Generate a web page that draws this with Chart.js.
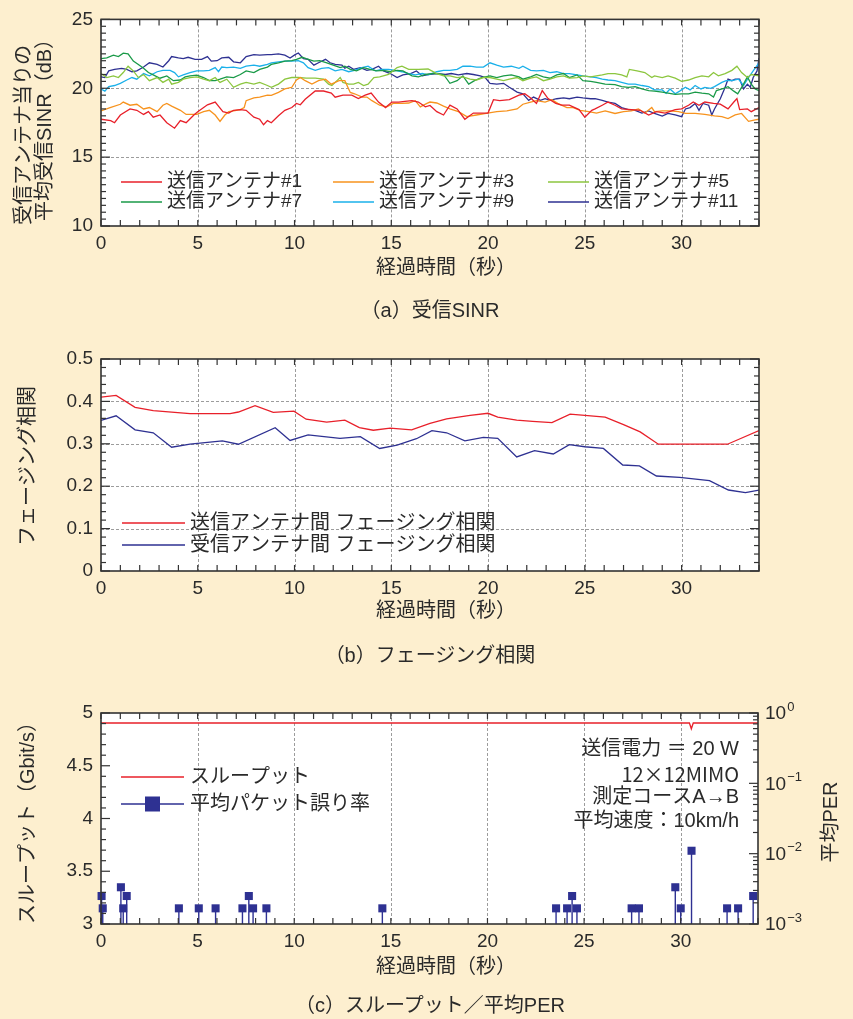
<!DOCTYPE html>
<html><head><meta charset="utf-8">
<script src="https://cdn.jsdelivr.net/npm/chart.js@4.4.1/dist/chart.umd.min.js"></script>
<style>
html,body{margin:0;padding:0;background:#fdefcf;overflow:hidden;}
#wrap{position:relative;width:853px;height:1019px;}
canvas{position:absolute;left:0;top:0;}
.cap{position:absolute;left:0;width:860px;text-align:center;font-size:20px;font-family:"Liberation Sans","Noto Sans CJK JP",sans-serif;color:#2a2a2a;line-height:24px;}
</style></head><body>
<div id="wrap">
<canvas id="c1" width="853" height="1019"></canvas>
<canvas id="c2" width="853" height="1019"></canvas>
<canvas id="c3" width="853" height="1019"></canvas>
<div class="cap" style="top:298px">（a）受信SINR</div>
<div class="cap" style="top:643px">（b）フェージング相関</div>
<div class="cap" style="top:993px">（c）スループット／平均PER</div>
</div>
<script>
// ---------------- DATA ----------------
const xTickVals = [0, 5, 10, 15, 20, 25, 30];
const sinrTickVals = [10, 15, 20, 25];
const corrTickVals = [0, 0.1, 0.2, 0.3, 0.4, 0.5];
const thrTickVals = [3, 3.5, 4, 4.5, 5];
const perTickExps = [-3, -2, -1, 0];

const sinrLabels = ['送信アンテナ#1', '送信アンテナ#3', '送信アンテナ#5', '送信アンテナ#7', '送信アンテナ#9', '送信アンテナ#11'];

// [time (s), SINR (dB)]
const ant1 = [[0,17.75],[0.5,17.65],[0.7,17.5],[1,18.06],[1.5,18.5],[1.85,18.4],[2.2,18.1],[2.45,18.3],[2.7,17.9],[3.05,18.06],[3.4,17.5],[3.8,17.1],[4.1,17.65],[4.4,17.5],[4.8,18.06],[5.0,18.3],[5.5,18.8],[5.9,19.0],[6.1,18.65],[6.3,18.3],[6.6,18.2],[6.85,18.4],[7.2,18.45],[7.5,18.4],[7.9,17.9],[8.2,17.75],[8.4,17.35],[8.6,17.65],[8.8,17.5],[9.17,18.0],[9.5,18.4],[9.86,18.6],[10.1,18.9],[10.3,18.8],[10.55,19.2],[11.07,19.8],[11.5,19.8],[11.9,19.65],[12.1,19.35],[12.5,19.5],[12.96,19.5],[13.3,19.25],[13.65,19.5],[13.96,19.65],[14.34,19.0],[14.7,18.6],[15.03,19.0],[15.38,19.0],[15.7,19.05],[16.07,19.1],[16.4,19.0],[16.76,18.65],[17.0,18.75],[17.35,18.3],[17.7,18.06],[18.03,18.77],[18.4,18.5],[18.8,17.75],[19.24,18.2],[19.67,18.2],[20.0,18.2],[20.28,19.17],[20.6,19.1],[21.1,19.17],[21.6,19.5],[21.9,19.6],[22.2,19.3],[22.5,18.9],[22.8,19.83],[23.1,19.25],[23.5,18.9],[23.8,18.77],[24.2,18.77],[24.7,18.45],[25.0,17.9],[25.36,18.4],[25.53,18.5],[25.9,18.77],[26.2,19.0],[26.56,18.77],[26.9,18.5],[27.4,18.45],[27.86,18.4],[28.3,18.06],[28.7,18.3],[29.15,18.2],[29.67,18.45],[30.0,18.5],[30.36,18.77],[30.6,19.0],[30.9,18.77],[31.2,19.0],[31.65,18.9],[32.0,18.85],[32.4,18.5],[32.7,19.0],[32.86,19.25],[33.0,18.45],[33.4,18.5],[33.6,18.3],[34.0,18.6]];
const ant3 = [[0,18.36],[0.47,18.6],[1.0,18.84],[1.15,19.0],[1.5,18.77],[1.85,18.84],[2.2,18.5],[2.5,18.6],[2.9,18.3],[3.2,18.77],[3.4,18.9],[3.65,18.7],[4.1,18.4],[4.4,18.1],[4.95,18.1],[5.3,18.3],[5.6,18.4],[5.9,18.06],[6.15,17.6],[6.4,18.06],[6.6,18.3],[6.85,18.36],[7.2,18.45],[7.4,18.6],[7.5,19.1],[7.9,19.3],[8.2,19.36],[8.6,19.5],[8.8,19.48],[9.17,19.7],[9.5,19.95],[9.86,20.07],[10.1,20.6],[10.3,20.78],[10.55,20.55],[10.9,20.3],[11.24,20.55],[11.6,20.66],[11.9,20.3],[12.3,20.55],[12.6,20.55],[12.88,19.7],[13.1,19.6],[13.5,19.36],[13.74,19.36],[14.0,19.1],[14.4,18.77],[14.77,18.65],[15.1,18.9],[15.55,18.9],[15.9,18.93],[16.24,19.1],[16.5,18.65],[16.84,18.9],[17.0,19.0],[17.35,18.93],[17.7,18.7],[18.03,18.5],[18.47,18.3],[18.9,17.94],[19.4,18.06],[19.9,18.17],[20.45,18.3],[20.97,18.36],[21.5,18.5],[21.8,18.84],[22.2,19.0],[22.5,19.1],[22.95,19.0],[23.3,19.17],[23.6,18.9],[24.07,18.6],[24.4,18.6],[24.76,18.4],[25.2,18.3],[25.6,18.2],[26.05,18.36],[26.56,18.17],[27.0,18.3],[27.4,18.36],[27.77,18.5],[28.1,18.2],[28.46,18.6],[28.6,18.3],[29.0,18.36],[29.4,18.36],[29.84,18.3],[30.2,18.17],[30.7,18.17],[31.2,18.1],[31.7,18.0],[32.08,17.94],[32.4,17.8],[32.77,18.06],[33.1,18.17],[33.46,17.6],[33.8,17.7],[34.0,17.75]];
const ant5 = [[0,21.07],[0.3,20.78],[0.64,20.9],[0.9,20.78],[1.15,21.14],[1.4,21.6],[1.67,21.26],[1.93,20.78],[2.2,21.0],[2.5,20.55],[2.9,20.78],[3.2,20.43],[3.5,20.66],[3.65,20.3],[4.0,20.43],[4.25,20.66],[4.6,20.78],[4.95,20.83],[5.3,20.66],[5.6,20.55],[5.9,20.78],[6.15,20.43],[6.5,20.66],[6.85,20.07],[7.2,20.3],[7.5,20.43],[7.9,20.3],[8.2,20.43],[8.6,20.2],[8.8,20.07],[9.17,20.3],[9.5,20.66],[9.86,20.78],[10.2,20.78],[10.6,20.73],[11.07,20.73],[11.5,20.66],[11.76,20.3],[11.93,20.2],[12.1,20.43],[12.36,20.78],[12.5,20.43],[12.8,20.3],[13.05,20.3],[13.3,20.43],[13.57,20.2],[13.8,20.3],[14.1,20.78],[14.4,20.83],[14.86,21.0],[15.3,21.5],[15.55,21.6],[15.9,21.37],[16.4,21.37],[16.9,21.4],[17.35,21.07],[17.7,20.9],[18.03,20.9],[18.4,20.78],[18.7,20.83],[19.07,20.66],[19.4,20.6],[19.76,20.78],[20.1,20.78],[20.45,20.66],[20.8,20.55],[21.1,20.66],[21.5,20.78],[21.8,20.55],[22.2,20.73],[22.5,20.83],[22.86,20.55],[23.2,20.66],[23.55,20.83],[23.9,20.9],[24.2,20.73],[24.6,20.78],[24.9,20.9],[25.3,20.83],[25.6,20.9],[25.9,20.97],[26.2,21.07],[26.56,21.07],[26.9,20.97],[27.17,20.83],[27.3,21.37],[27.7,21.26],[28.1,21.14],[28.46,20.78],[28.6,20.9],[29.0,20.78],[29.3,20.9],[29.67,20.73],[30.0,20.5],[30.36,20.6],[30.7,20.78],[31.05,20.9],[31.4,20.83],[31.65,21.14],[31.9,20.9],[32.25,21.07],[32.6,21.3],[32.86,21.6],[33.1,21.14],[33.4,20.78],[33.6,21.0],[34.0,20.9]];
const ant7 = [[0,22.15],[0.3,22.2],[0.64,22.4],[0.9,22.3],[1.15,22.55],[1.4,22.5],[1.67,21.97],[1.93,21.73],[2.2,21.45],[2.45,21.14],[2.7,20.97],[3.05,20.73],[3.4,20.9],[3.74,20.55],[4.1,20.6],[4.35,20.83],[4.6,20.9],[4.95,20.95],[5.3,20.78],[5.6,20.55],[5.9,20.55],[6.15,20.66],[6.5,20.83],[6.85,20.78],[7.2,21.0],[7.5,21.26],[7.9,21.14],[8.2,21.37],[8.6,21.54],[8.8,21.73],[9.17,21.85],[9.5,21.97],[9.86,22.0],[10.1,22.1],[10.4,22.25],[10.6,22.15],[11.0,21.97],[11.3,22.0],[11.67,21.85],[12.0,21.68],[12.36,21.5],[12.6,21.6],[12.88,21.37],[13.2,21.26],[13.57,21.5],[13.9,21.37],[14.25,21.26],[14.6,21.3],[14.95,21.2],[15.3,21.3],[15.6,21.26],[16.07,20.9],[16.4,20.83],[16.76,21.0],[17.1,21.07],[17.35,21.07],[17.7,21.0],[18.03,20.36],[18.4,20.55],[18.7,20.9],[19.0,20.3],[19.3,20.55],[19.67,20.78],[20.1,20.9],[20.45,20.78],[20.8,20.9],[21.2,20.97],[21.6,20.83],[21.8,20.66],[22.2,20.83],[22.5,21.0],[22.86,20.83],[23.2,20.73],[23.55,20.97],[23.9,21.07],[24.2,20.78],[24.6,20.97],[24.9,20.55],[25.3,20.5],[25.6,20.43],[26.05,20.3],[26.56,20.26],[26.9,20.12],[27.25,20.07],[27.6,20.12],[27.95,19.95],[28.3,19.83],[28.6,19.79],[29.0,19.72],[29.3,19.64],[29.67,19.55],[30.0,19.6],[30.36,19.6],[30.7,19.72],[31.05,19.64],[31.4,19.6],[31.65,19.36],[31.8,19.83],[32.17,20.0],[32.4,20.12],[32.7,19.79],[32.9,19.6],[33.2,20.3],[33.4,20.83],[33.6,20.3],[33.8,19.95],[34.0,19.83]];
const ant9 = [[0,19.95],[0.2,19.79],[0.4,20.12],[0.7,20.2],[1.0,20.36],[1.33,20.6],[1.6,20.78],[1.85,20.66],[2.2,21.07],[2.5,20.9],[2.9,21.2],[3.2,21.3],[3.57,21.3],[3.8,21.14],[4.0,20.83],[4.25,20.97],[4.6,21.14],[4.95,21.26],[5.3,21.26],[5.6,21.3],[5.9,21.5],[6.07,21.2],[6.24,21.54],[6.5,21.5],[6.85,21.54],[7.2,21.45],[7.5,21.6],[7.9,21.68],[8.2,21.6],[8.6,21.73],[8.8,21.85],[9.17,21.92],[9.5,21.97],[9.86,21.97],[10.2,22.0],[10.46,21.85],[10.7,21.5],[11.07,21.3],[11.4,21.45],[11.76,21.5],[12.1,21.26],[12.45,21.37],[12.8,21.2],[13.1,21.3],[13.48,21.5],[13.8,21.6],[14.17,21.26],[14.5,21.37],[14.86,21.37],[15.2,21.3],[15.55,21.2],[15.9,21.07],[16.24,20.97],[16.6,21.07],[16.9,20.97],[17.35,21.2],[17.7,21.3],[18.03,21.3],[18.4,21.37],[18.7,21.6],[19.07,21.6],[19.4,21.54],[19.76,21.54],[20.1,21.85],[20.45,21.68],[20.8,21.54],[21.2,21.6],[21.6,21.45],[21.8,21.6],[22.2,21.3],[22.5,21.26],[22.86,21.3],[23.2,21.14],[23.55,21.2],[23.9,21.07],[24.2,21.07],[24.6,20.97],[24.9,20.9],[25.3,20.83],[25.6,20.78],[25.9,20.66],[26.2,20.6],[26.56,20.55],[26.9,20.43],[27.25,20.3],[27.6,20.3],[27.95,20.2],[28.3,20.12],[28.6,19.88],[29.0,19.88],[29.2,19.64],[29.4,19.95],[29.67,19.6],[29.9,19.79],[30.2,20.07],[30.44,19.88],[30.7,20.2],[31.0,19.95],[31.2,20.07],[31.5,20.0],[31.7,20.12],[32.08,20.43],[32.3,20.55],[32.6,20.55],[32.94,20.66],[33.2,20.2],[33.46,20.78],[33.7,21.26],[34.0,21.85]];
const ant11 = [[0,20.83],[0.2,20.78],[0.4,21.26],[0.7,21.37],[1.07,21.45],[1.33,21.37],[1.6,21.2],[1.85,21.26],[2.2,21.54],[2.5,21.85],[2.9,21.73],[3.2,21.54],[3.5,22.0],[3.65,22.3],[4.0,22.2],[4.25,22.15],[4.5,22.25],[4.86,22.1],[5.2,22.1],[5.5,22.3],[5.7,21.97],[6.0,22.0],[6.24,22.2],[6.6,22.25],[6.85,21.92],[7.2,21.85],[7.5,22.3],[7.9,22.44],[8.2,22.4],[8.6,22.44],[8.8,22.44],[9.17,22.5],[9.5,22.4],[9.77,22.2],[10.03,22.44],[10.2,22.56],[10.46,22.15],[10.7,22.1],[11.0,21.68],[11.24,21.85],[11.6,22.1],[11.84,21.85],[12.1,21.73],[12.45,21.68],[12.6,21.45],[12.8,21.6],[13.05,21.37],[13.4,21.5],[13.74,21.3],[14.0,21.37],[14.34,21.6],[14.6,21.26],[14.95,21.07],[15.3,20.78],[15.6,20.97],[16.0,21.07],[16.3,21.26],[16.6,20.9],[16.9,21.0],[17.35,21.07],[17.8,21.0],[18.1,21.07],[18.47,20.97],[18.9,21.07],[19.24,21.0],[19.6,20.9],[19.85,20.78],[20.1,20.36],[20.45,20.3],[20.8,20.36],[21.1,20.07],[21.5,19.72],[21.8,19.6],[22.1,19.12],[22.35,19.36],[22.7,19.12],[22.95,19.24],[23.2,19.12],[23.55,19.24],[23.9,19.3],[24.2,19.24],[24.6,19.36],[24.9,19.3],[25.3,19.24],[25.53,19.24],[25.9,19.12],[26.2,19.0],[26.56,18.9],[26.9,18.6],[27.25,18.45],[27.6,18.4],[27.95,18.2],[28.3,18.36],[28.6,18.17],[29.0,17.98],[29.3,18.17],[29.67,18.06],[30.0,17.94],[30.2,18.5],[30.44,18.6],[30.7,18.9],[30.9,18.4],[31.1,18.9],[31.4,18.77],[31.56,18.06],[31.7,18.5],[32.0,19.24],[32.25,20.07],[32.4,20.66],[32.6,20.55],[32.77,20.66],[33.0,20.66],[33.2,19.95],[33.4,20.3],[33.55,20.07],[33.7,20.78],[33.9,21.26],[34.0,22.2]];

// [time (s), correlation]
const corrLabels = ['送信アンテナ間 フェージング相関', '受信アンテナ間 フェージング相関'];
const txCorr = [[0,0.41],[0.78,0.414],[1.76,0.386],[2.7,0.378],[4.6,0.371],[6.67,0.371],[7.1,0.375],[7.96,0.39],[8.9,0.374],[9.97,0.377],[10.6,0.358],[11.66,0.351],[12.6,0.356],[13.35,0.338],[14.07,0.332],[14.94,0.337],[16.05,0.333],[17.0,0.348],[17.86,0.359],[19.07,0.367],[20.0,0.372],[20.5,0.363],[21.48,0.356],[22.3,0.353],[23.3,0.35],[24.24,0.37],[25.0,0.367],[26.05,0.363],[27.0,0.345],[27.86,0.328],[28.8,0.299],[29.9,0.299],[32.37,0.299],[34.0,0.331]];
const rxCorr = [[0,0.355],[0.78,0.366],[1.76,0.333],[2.7,0.326],[3.65,0.292],[4.6,0.299],[6.27,0.307],[7.1,0.299],[9.0,0.338],[9.77,0.308],[10.7,0.321],[12.35,0.313],[13.4,0.317],[14.4,0.289],[15.3,0.297],[16.3,0.312],[17.1,0.331],[17.86,0.326],[18.8,0.307],[19.76,0.315],[20.5,0.313],[21.48,0.269],[22.4,0.284],[23.37,0.276],[24.2,0.298],[25.0,0.293],[25.96,0.289],[26.96,0.25],[27.82,0.248],[28.7,0.224],[29.9,0.221],[31.44,0.213],[32.42,0.191],[33.3,0.185],[34.0,0.191]];

// throughput (Gbit/s) and average PER
const thrLabels = ['スループット', '平均パケット誤り率'];
const thrT = [0, 5, 10, 15, 20, 25, 30, 30.45, 30.55, 30.65, 34];
const thrV = [4.905, 4.905, 4.905, 4.905, 4.905, 4.905, 4.905, 4.905, 4.85, 4.905, 4.905];
const perT = [0.03, 0.09, 1.03, 1.15, 1.33, 4.03, 5.06, 5.93, 7.32, 7.65, 7.87, 8.56, 14.56, 23.55, 24.12, 24.38, 24.63, 27.46, 27.84, 29.72, 30.0, 30.56, 32.4, 32.97, 33.75];
const perV = [2.5e-3, 1.67e-3, 3.33e-3, 1.67e-3, 2.5e-3, 1.67e-3, 1.67e-3, 1.67e-3, 1.67e-3, 2.5e-3, 1.67e-3, 1.67e-3, 1.67e-3, 1.67e-3, 1.67e-3, 2.5e-3, 1.67e-3, 1.67e-3, 1.67e-3, 3.33e-3, 1.67e-3, 1.1e-2, 1.67e-3, 1.67e-3, 2.5e-3];
const noteLines = ['送信電力 ＝ 20 W', '12×12MIMO', '測定コースA→B', '平均速度：10km/h'];

// ---------------- STYLE ----------------
const FONT = '"Liberation Sans", "Noto Sans CJK JP", sans-serif';
const TXT = '#2a2a2a';
const RED = '#e8202a', ORANGE = '#f7931e', LGREEN = '#8cc63f', DGREEN = '#1a9a48', LBLUE = '#1ab0ea', NAVY = '#2e3192';
const TICK_FONT = {family: FONT, size: 19};

// ---------------- PLUGINS ----------------
const framePlugin = {
  id: 'frame',
  beforeDatasetsDraw(chart, args, o) {
    const {ctx, chartArea: a} = chart;
    ctx.save();
    ctx.fillStyle = '#ffffff';
    ctx.fillRect(a.left, a.top, a.right - a.left, a.bottom - a.top);
    ctx.strokeStyle = '#9c9c9c'; ctx.lineWidth = 1; ctx.setLineDash([3, 2]);
    for (const g of (o.grid || [])) {
      const s = chart.scales[g.scale];
      for (const v of g.values) {
        const p = Math.round(s.getPixelForValue(v)) + 0.5;
        ctx.beginPath();
        if (s.isHorizontal()) { ctx.moveTo(p, a.top); ctx.lineTo(p, a.bottom); }
        else { ctx.moveTo(a.left, p); ctx.lineTo(a.right, p); }
        ctx.stroke();
      }
    }
    ctx.setLineDash([]);
    if (o.stems) {
      const meta = chart.getDatasetMeta(o.stems.dataset);
      ctx.strokeStyle = o.stems.color; ctx.lineWidth = 1.4;
      for (const el of meta.data) {
        ctx.beginPath(); ctx.moveTo(el.x, el.y); ctx.lineTo(el.x, a.bottom); ctx.stroke();
      }
    }
    ctx.restore();
  },
  afterDatasetsDraw(chart, args, o) {
    const {ctx, chartArea: a} = chart;
    ctx.save();
    ctx.strokeStyle = '#333'; ctx.lineWidth = 1.2;
    for (const sp of (o.ticks || [])) {
      const s = chart.scales[sp.scale];
      const vals = [];
      if (sp.log) {
        for (let e = sp.fromExp; e < sp.toExp; e++) for (let m = 1; m < 10; m++) vals.push({v: m * Math.pow(10, e), major: m === 1});
        vals.push({v: Math.pow(10, sp.toExp), major: true});
      } else {
        const n = Math.round((sp.to - sp.from) / sp.step);
        for (let i = 0; i <= n; i++) vals.push({v: sp.from + i * sp.step, major: i % sp.majorEvery === 0});
      }
      for (const {v, major} of vals) {
        const p = s.getPixelForValue(v);
        const len = major ? sp.majorLen : sp.len;
        for (const side of sp.sides) {
          ctx.beginPath();
          if (side === 'top') { ctx.moveTo(p, a.top); ctx.lineTo(p, a.top + len); }
          else if (side === 'bottom') { ctx.moveTo(p, a.bottom); ctx.lineTo(p, a.bottom - len); }
          else if (side === 'left') { ctx.moveTo(a.left, p); ctx.lineTo(a.left + len, p); }
          else { ctx.moveTo(a.right, p); ctx.lineTo(a.right - len, p); }
          ctx.stroke();
        }
      }
    }
    ctx.lineWidth = 1.6; ctx.strokeStyle = '#333';
    ctx.strokeRect(a.left, a.top, a.right - a.left, a.bottom - a.top);
    ctx.restore();
  }
};

const legendPlugin = {
  id: 'inLegend',
  afterDatasetsDraw(chart, args, o) {
    if (!o.items) return;
    const ctx = chart.ctx;
    ctx.save();
    ctx.font = o.font; ctx.textBaseline = 'middle'; ctx.textAlign = 'left';
    for (const it of o.items) {
      const ds = chart.data.datasets[it.ds];
      const color = ds.borderColor || ds.backgroundColor;
      ctx.strokeStyle = color; ctx.lineWidth = 1.5;
      ctx.beginPath(); ctx.moveTo(it.x, it.y); ctx.lineTo(it.x + o.lineLen, it.y); ctx.stroke();
      if (it.marker) {
        ctx.fillStyle = color;
        ctx.fillRect(it.x + o.lineLen / 2 - it.marker / 2, it.y - it.marker / 2, it.marker, it.marker);
      }
      ctx.fillStyle = TXT;
      ctx.fillText(ds.label, it.x + o.lineLen + o.gap, it.y);
    }
    ctx.restore();
  }
};

const textPlugin = {
  id: 'texts',
  afterDraw(chart, args, o) {
    const ctx = chart.ctx;
    for (const t of (o.items || [])) {
      ctx.save();
      ctx.translate(t.x, t.y);
      if (t.rotate) ctx.rotate(t.rotate * Math.PI / 180);
      ctx.font = t.font || ('20px ' + FONT);
      ctx.fillStyle = TXT; ctx.textAlign = t.align || 'center'; ctx.textBaseline = 'middle';
      ctx.fillText(t.text, 0, 0);
      ctx.restore();
    }
    if (o.logLabels) {
      const L = o.logLabels, s = chart.scales[L.scale];
      ctx.save(); ctx.fillStyle = TXT; ctx.textAlign = 'left'; ctx.textBaseline = 'middle';
      for (const e of L.exps) {
        const y = s.getPixelForValue(Math.pow(10, e));
        ctx.font = '19px ' + FONT;
        ctx.fillText('10', L.x, y + 1);
        const w = ctx.measureText('10').width;
        ctx.font = '13px ' + FONT;
        ctx.fillText(e === 0 ? '0' : '\u2212' + Math.abs(e), L.x + w + 1, y - 6);
      }
      ctx.restore();
    }
  }
};

// ---------------- HELPERS ----------------
function xAxis() {
  return {
    type: 'linear', min: 0, max: 34,
    afterBuildTicks: s => { s.ticks = xTickVals.map(v => ({value: v})); },
    ticks: {font: TICK_FONT, color: TXT, padding: 6, maxRotation: 0, autoSkip: false},
    grid: {display: false, drawTicks: false}, border: {display: false},
    afterFit: s => { s.height = 54; }
  };
}
function yAxis(min, max, vals, fmt) {
  return {
    type: 'linear', position: 'left', min, max,
    afterBuildTicks: s => { s.ticks = vals.map(v => ({value: v})); },
    ticks: {font: TICK_FONT, color: TXT, padding: 8, autoSkip: false, callback: fmt},
    grid: {display: false, drawTicks: false}, border: {display: false},
    afterFit: s => { s.width = 101; }
  };
}
const toXY = arr => arr.map(p => ({x: p[0], y: p[1]}));
function lineDs(label, arr, color) {
  return {label, data: toXY(arr), borderColor: color, backgroundColor: color, borderWidth: 1.3, pointRadius: 0, tension: 0, fill: false};
}
const gridX = xTickVals.filter(v => v > 0 && v < 34);
const base = {responsive: false, animation: false, devicePixelRatio: 1, events: []};

// ---------------- CHART 1 ----------------
new Chart(document.getElementById('c1'), {
  type: 'line',
  data: {datasets: [
    lineDs(sinrLabels[0], ant1, RED),
    lineDs(sinrLabels[1], ant3, ORANGE),
    lineDs(sinrLabels[2], ant5, LGREEN),
    lineDs(sinrLabels[3], ant7, DGREEN),
    lineDs(sinrLabels[4], ant9, LBLUE),
    lineDs(sinrLabels[5], ant11, NAVY)
  ]},
  options: Object.assign({}, base, {
    layout: {padding: {left: 0, right: 94, top: 15, bottom: 1019 - 226 - 54}},
    scales: {x: xAxis(), y: yAxis(10, 25, sinrTickVals, v => String(v))},
    plugins: {
      legend: {display: false}, tooltip: {enabled: false},
      frame: {
        grid: [{scale: 'x', values: gridX}, {scale: 'y', values: sinrTickVals.filter(v => v > 10 && v < 25)}],
        ticks: [
          {scale: 'x', from: 0, to: 34, step: 1, majorEvery: 5, len: 6, majorLen: 6, sides: ['top', 'bottom']},
          {scale: 'y', from: 10, to: 25, step: 0.5, majorEvery: 10, len: 5, majorLen: 9, sides: ['left', 'right']}
        ]
      },
      inLegend: {
        font: '19px ' + FONT, lineLen: 41, gap: 5,
        items: [
          {ds: 0, x: 121, y: 182}, {ds: 1, x: 333, y: 182}, {ds: 2, x: 548, y: 182},
          {ds: 3, x: 121, y: 202}, {ds: 4, x: 333, y: 202}, {ds: 5, x: 548, y: 202}
        ]
      },
      texts: {items: [
        {text: '受信アンテナ当りの', x: 24, y: 135, rotate: -90},
        {text: '平均受信SINR（dB）', x: 45, y: 125, rotate: -90},
        {text: '経過時間（秒）', x: 446, y: 268}
      ]}
    }
  }),
  plugins: [framePlugin, legendPlugin, textPlugin]
});

// ---------------- CHART 2 ----------------
new Chart(document.getElementById('c2'), {
  type: 'line',
  data: {datasets: [
    lineDs(corrLabels[0], txCorr, RED),
    lineDs(corrLabels[1], rxCorr, NAVY)
  ]},
  options: Object.assign({}, base, {
    layout: {padding: {left: 0, right: 94, top: 359, bottom: 1019 - 571 - 54}},
    scales: {x: xAxis(), y: yAxis(0, 0.5, corrTickVals, v => v === 0 ? '0' : v.toFixed(1))},
    plugins: {
      legend: {display: false}, tooltip: {enabled: false},
      frame: {
        grid: [{scale: 'x', values: gridX}, {scale: 'y', values: corrTickVals.filter(v => v > 0 && v < 0.5)}],
        ticks: [
          {scale: 'x', from: 0, to: 34, step: 1, majorEvery: 5, len: 6, majorLen: 6, sides: ['top', 'bottom']},
          {scale: 'y', from: 0, to: 0.5, step: 0.02, majorEvery: 5, len: 5, majorLen: 9, sides: ['left', 'right']}
        ]
      },
      inLegend: {
        font: '20px ' + FONT, lineLen: 63, gap: 5,
        items: [{ds: 0, x: 122, y: 523}, {ds: 1, x: 122, y: 545}]
      },
      texts: {items: [
        {text: 'フェージング相関', x: 28, y: 466, rotate: -90},
        {text: '経過時間（秒）', x: 446, y: 611}
      ]}
    }
  }),
  plugins: [framePlugin, legendPlugin, textPlugin]
});

// ---------------- CHART 3 ----------------
new Chart(document.getElementById('c3'), {
  type: 'line',
  data: {datasets: [
    Object.assign(lineDs(thrLabels[0], thrT.map((t, i) => [t, thrV[i]]), RED), {yAxisID: 'y'}),
    {label: thrLabels[1], type: 'scatter', yAxisID: 'y2', showLine: false, clip: false,
     data: perT.map((t, i) => ({x: t, y: perV[i]})),
     borderColor: NAVY, backgroundColor: NAVY, pointStyle: 'rect', pointRadius: 5.7, borderWidth: 0}
  ]},
  options: Object.assign({}, base, {
    layout: {padding: {left: 0, right: 0, top: 713, bottom: 1019 - 924 - 54}},
    scales: {
      x: xAxis(),
      y: yAxis(3, 5, thrTickVals, v => String(v)),
      y2: {
        type: 'logarithmic', position: 'right', min: 1e-3, max: 1,
        afterBuildTicks: s => { s.ticks = perTickExps.map(e => ({value: Math.pow(10, e)})); },
        ticks: {display: false},
        grid: {display: false, drawTicks: false}, border: {display: false},
        afterFit: s => { s.width = 95; }
      }
    },
    plugins: {
      legend: {display: false}, tooltip: {enabled: false},
      frame: {
        grid: [{scale: 'x', values: gridX}],
        stems: {dataset: 1, color: NAVY},
        ticks: [
          {scale: 'x', from: 0, to: 34, step: 1, majorEvery: 5, len: 6, majorLen: 6, sides: ['top', 'bottom']},
          {scale: 'y', from: 3, to: 5, step: 0.1, majorEvery: 5, len: 5, majorLen: 9, sides: ['left']},
          {scale: 'y2', log: true, fromExp: -3, toExp: 0, len: 5, majorLen: 9, sides: ['right']}
        ]
      },
      inLegend: {
        font: '20px ' + FONT, lineLen: 63, gap: 6,
        items: [{ds: 0, x: 121, y: 777}, {ds: 1, x: 121, y: 804, marker: 15}]
      },
      texts: {
        items: [
          {text: 'スループット（Gbit/s）', x: 28, y: 818, rotate: -90},
          {text: '平均PER', x: 831, y: 822, rotate: -90},
          {text: '経過時間（秒）', x: 446, y: 967},
          {text: noteLines[0], x: 739, y: 749, align: 'right'},
          {text: noteLines[1], x: 739, y: 774, align: 'right', font: '20px "Noto Sans CJK JP", "Liberation Sans", sans-serif'},
          {text: noteLines[2], x: 739, y: 797, align: 'right'},
          {text: noteLines[3], x: 739, y: 821, align: 'right'}
        ],
        logLabels: {scale: 'y2', x: 765, exps: perTickExps}
      }
    }
  }),
  plugins: [framePlugin, legendPlugin, textPlugin]
});
</script>
</body></html>
